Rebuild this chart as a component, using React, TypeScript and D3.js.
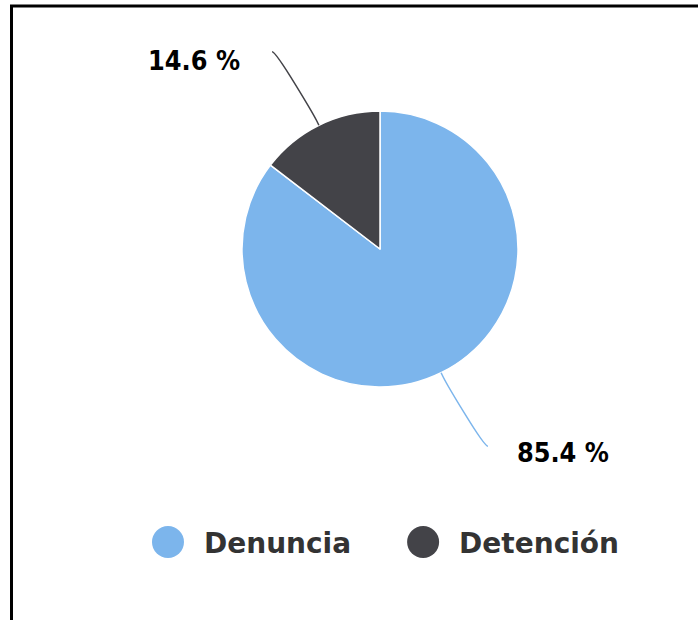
import React, { useEffect, useRef } from "react";
import * as d3 from "d3";

const categories = ["Denuncia", "Detención"];
const values = [85.4, 14.6];
const labels = ["85.4 %", "14.6 %"];
const colors = ["#7cb5ec", "#434348"];

const W = 698;
const H = 620;

export default function App() {
  const ref = useRef<SVGSVGElement | null>(null);

  useEffect(() => {
    const svg = d3.select(ref.current);
    svg.selectAll("*").remove();

    // frame
    svg
      .append("rect")
      .attr("x", 11.5)
      .attr("y", 6)
      .attr("width", 900)
      .attr("height", 900)
      .attr("fill", "none")
      .attr("stroke", "#000")
      .attr("stroke-width", 3);

    const cx = 380;
    const cy = 249;
    const r = 138;

    const pie = d3
      .pie<number>()
      .sort(null)
      .value((d) => d)
      .startAngle(0)
      .endAngle(2 * Math.PI);
    const arcs = pie(values);
    const arc = d3.arc<d3.PieArcDatum<number>>().innerRadius(0).outerRadius(r);

    const g = svg.append("g").attr("transform", `translate(${cx},${cy})`);
    g.selectAll("path.slice")
      .data(arcs)
      .join("path")
      .attr("class", "slice")
      .attr("d", arc)
      .attr("fill", (_, i) => colors[i])
      .attr("stroke", "#fff")
      .attr("stroke-width", 1.5)
      .attr("stroke-linejoin", "round");

    // data labels with soft connectors
    const labelRY = r + 82;
    const labelRX = r + 84.5;
    arcs.forEach((a, i) => {
      const mid = (a.startAngle + a.endAngle) / 2;
      const dx = Math.sin(mid);
      const dy = -Math.cos(mid);
      const left = dx < 0;
      const ly = labelRY * dy;
      const lx = (left ? -1 : 1) * Math.sqrt(labelRX * labelRX - ly * ly);
      const p2 = [(r + 5) * dx, (r + 5) * dy];
      const p4 = [r * dx, r * dy];
      const c2 = [2 * p2[0] - p4[0], 2 * p2[1] - p4[1]];
      const start = lx + (left ? -5 : 5);
      const path = `M${start},${ly} C${lx},${ly} ${c2[0]},${c2[1]} ${p2[0]},${p2[1]} L${p4[0]},${p4[1]}`;
      g.append("path")
        .attr("d", path)
        .attr("fill", "none")
        .attr("stroke", colors[i])
        .attr("stroke-width", 1.5);
      g.append("text")
        .attr("x", lx + (left ? -37 : 34))
        .attr("y", ly + (left ? 18 : 16))
        .attr("text-anchor", left ? "end" : "start")
        .attr("font-family", "'DejaVu Sans', sans-serif")
        .attr("font-weight", "bold")
        .attr("font-size", 26)
        .attr("textLength", 92)
        .attr("lengthAdjust", "spacingAndGlyphs")
        .attr("fill", "#000")
        .text(labels[i]);
    });

    // legend
    const legend = svg.append("g");
    const symR = 16;
    const symGap = 20;
    const itemGap = 56;
    const items = categories.map((c, i) => {
      const gi = legend.append("g");
      gi.append("circle").attr("r", symR).attr("cx", symR).attr("cy", 0).attr("fill", colors[i]);
      const t = gi
        .append("text")
        .attr("x", 2 * symR + symGap)
        .attr("y", 11)
        .attr("font-family", "'DejaVu Sans', sans-serif")
        .attr("font-weight", "bold")
        .attr("font-size", 28)
        .attr("fill", "#333333")
        .text(c);
      const w = 2 * symR + symGap + (t.node() as SVGTextElement).getComputedTextLength();
      return { gi, w };
    });
    const total = items.reduce((s, it) => s + it.w, 0) + itemGap * (items.length - 1);
    let x = 385.5 - total / 2;
    items.forEach((it) => {
      it.gi.attr("transform", `translate(${x},542)`);
      x += it.w + itemGap;
    });
  }, []);

  return (
    <svg
      ref={ref}
      width={W}
      height={H}
      style={{ position: "absolute", left: 0, top: 0, background: "#fff" }}
    />
  );
}
